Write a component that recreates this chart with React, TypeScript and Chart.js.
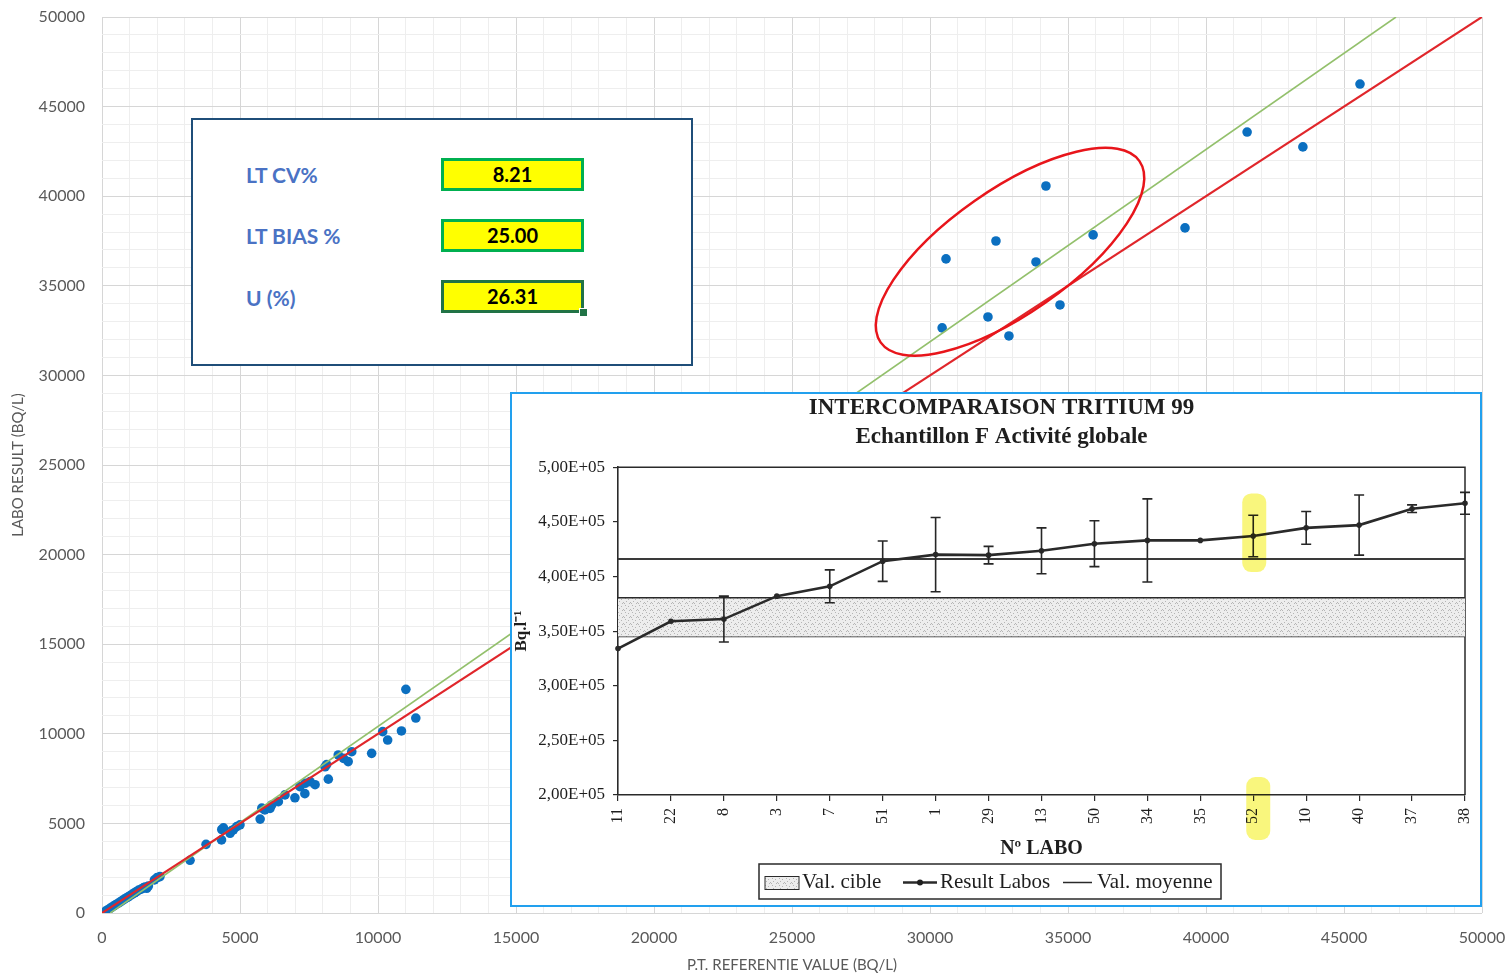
import React, { useEffect, useRef } from 'react';
import { Chart, registerables } from 'chart.js';

Chart.register(...registerables);

// ---------- Main scatter: lab result vs P.T. reference value (Bq/L) ----------
const refValues = [
  50, 120, 200, 280, 350, 430, 500, 580, 650, 730, 800, 880, 950, 1030, 1100, 1180, 1250, 1330, 1420, 1500,
  1560, 1620, 1680, 1900, 2000, 2100, 3190, 3770, 4330, 4340, 4400, 4640, 4700, 4760, 4880, 5000, 5730, 5790,
  5900, 6090, 6150, 6390, 6630, 6990, 7170, 7350, 7360, 7540, 7720, 8080, 8140, 8200, 8560, 8750, 8920, 9050,
  9770, 10170, 10350, 10850, 11010, 11370,
  30440, 30580, 32100, 32390, 32860, 33840, 34200, 34710, 35910, 39240, 41490, 43510, 45580,
];
const labValues = [
  20, 90, 170, 250, 320, 400, 470, 540, 610, 690, 760, 840, 900, 980, 1050, 1130, 1200, 1280, 1330, 1400,
  1450, 1380, 1500, 1850, 1980, 2030, 2940, 3830, 4080, 4660, 4750, 4450, 4600, 4640, 4820, 4920, 5240, 5850,
  5750, 5840, 6030, 6210, 6590, 6430, 7050, 6660, 7240, 7330, 7160, 8160, 8280, 7470, 8820, 8630, 8450, 9000,
  8910, 10120, 9650, 10160, 12480, 10880,
  32650, 36500, 33260, 37500, 32200, 36330, 40570, 33930, 37840, 38230, 43580, 42750, 46260,
];
// y = x reference line
const identityX = [0, 50000];
const identityY = [0, 50000];
// linear trend of the lab results
const trendX = [300, 46884];
const trendY = [0, 50000];
// centre of the circled group of results
const circledCentre = [32900, 36900];

const statLabels = ['LT CV%', 'LT BIAS %', 'U (%)'];
const statValues = ['8.21', '25.00', '26.31'];

// ---------- Inset: Intercomparaison tritium 99 ----------
const laboIds = ['11', '22', '8', '3', '7', '51', '1', '29', '13', '50', '34', '35', '52', '10', '40', '37', '38'];
const labResults = [334000, 359000, 361000, 382000, 391000, 414000, 420000, 419500, 423500, 430000, 433000, 433000, 437000, 444500, 447000, 462000, 467000];
const labUncertainty = [0, 0, 21000, 0, 15000, 18500, 34000, 8000, 21000, 21000, 38000, 0, 19000, 15000, 27500, 3500, 10000];
const valMoyenne = 416000;
const valCibleHigh = 380500;
const valCibleLow = 345000;
const insetTickValues = [200000, 250000, 300000, 350000, 400000, 450000, 500000];
const highlightLabo = '52';
const highlightRange = [476000, 404000];

const gridValues: number[] = [];
for (let v = 0; v <= 50000; v += 1000) gridValues.push(v);

const serif = 'Liberation Serif';
const ink = '#1e1e1e';

// keep the plot area where the layout padding puts it (ignore tick-label overflow)
function noOverflow(s: any) {
  s.paddingTop = 0;
  s.paddingBottom = 0;
  s.paddingLeft = 0;
  s.paddingRight = 0;
}

function makeStipple(): CanvasPattern | string {
  const c = document.createElement('canvas');
  c.width = 7;
  c.height = 7;
  const g = c.getContext('2d');
  if (!g) return '#e6e6e6';
  g.fillStyle = '#ededed';
  g.fillRect(0, 0, 7, 7);
  g.fillStyle = '#b5b5b5';
  [[1, 1], [4, 2], [6, 5], [2, 4], [5, 6], [0, 6]].forEach(([x, y]) => g.fillRect(x, y, 1, 1));
  return g.createPattern(c, 'repeat') || '#e6e6e6';
}

const ellipsePlugin = {
  id: 'circledGroup',
  afterDatasetsDraw(chart: any) {
    const { ctx, scales } = chart;
    const cx = scales.x.getPixelForValue(circledCentre[0]);
    const cy = scales.y.getPixelForValue(circledCentre[1]);
    ctx.save();
    ctx.beginPath();
    ctx.ellipse(cx, cy, 158, 62, (-35 * Math.PI) / 180, 0, Math.PI * 2);
    ctx.strokeStyle = '#e8151b';
    ctx.lineWidth = 2.5;
    ctx.stroke();
    ctx.restore();
  },
};

const mainTick = { family: 'Lato', size: 16 };

function mainConfig(): any {
  return {
    type: 'scatter',
    data: {
      datasets: [
        {
          label: 'y = x',
          data: identityX.map((x, i) => ({ x, y: identityY[i] })),
          showLine: true,
          borderColor: '#e0262b',
          borderWidth: 2.2,
          pointRadius: 0,
        },
        {
          label: 'Trend',
          data: trendX.map((x, i) => ({ x, y: trendY[i] })),
          showLine: true,
          borderColor: '#93c06c',
          borderWidth: 1.6,
          pointRadius: 0,
        },
        {
          label: 'Lab result',
          data: refValues.map((x, i) => ({ x, y: labValues[i] })),
          backgroundColor: '#0b6fc0',
          borderWidth: 0,
          pointRadius: 4.8,
        },
      ],
    },
    options: {
      responsive: false,
      animation: false,
      devicePixelRatio: 1,
      layout: { padding: { top: 17, right: 28, bottom: 0, left: 0 } },
      plugins: { legend: { display: false }, tooltip: { enabled: false } },
      scales: {
        x: {
          type: 'linear',
          min: 0,
          max: 50000,
          afterBuildTicks: (s: any) => {
            s.ticks = gridValues.map((value) => ({ value }));
          },
          afterFit: (s: any) => {
            s.height = 61;
            noOverflow(s);
          },
          grid: {
            drawTicks: false,
            color: (c: any) => (c.tick && c.tick.value % 5000 === 0 ? '#d6d6d6' : '#eeeeee'),
          },
          border: { display: false },
          ticks: {
            autoSkip: false,
            maxRotation: 0,
            padding: 15,
            color: '#595959',
            font: mainTick,
            callback: (v: number) => (v % 5000 === 0 ? String(v) : ''),
          },
          title: {
            display: true,
            text: 'P.T. REFERENTIE VALUE (BQ/L)',
            color: '#595959',
            font: { family: 'Lato', size: 15 },
            padding: { top: 0, bottom: 0 },
          },
        },
        y: {
          type: 'linear',
          min: 0,
          max: 50000,
          afterBuildTicks: (s: any) => {
            s.ticks = gridValues.map((value) => ({ value }));
          },
          afterFit: (s: any) => {
            s.width = 102;
            noOverflow(s);
          },
          grid: {
            drawTicks: false,
            color: (c: any) => (c.tick && c.tick.value % 5000 === 0 ? '#d6d6d6' : '#eeeeee'),
          },
          border: { display: false },
          ticks: {
            autoSkip: false,
            padding: 17,
            color: '#595959',
            font: mainTick,
            callback: (v: number) => (v % 5000 === 0 ? String(v) : ''),
          },
          title: {
            display: true,
            text: 'LABO RESULT (BQ/L)',
            color: '#595959',
            font: { family: 'Lato', size: 15 },
            padding: { top: 9, bottom: 0 },
          },
        },
      },
    },
    plugins: [ellipsePlugin],
  };
}

function insetConfig(stipple: CanvasPattern | string): any {
  const first = laboIds[0];
  const last = laboIds[laboIds.length - 1];

  const framePlugin = {
    id: 'plotFrame',
    beforeDatasetsDraw(chart: any) {
      const { ctx, chartArea: a } = chart;
      ctx.save();
      ctx.strokeStyle = '#2a2a2a';
      ctx.lineWidth = 1.5;
      ctx.beginPath();
      ctx.moveTo(a.left, a.top);
      ctx.lineTo(a.right, a.top);
      ctx.lineTo(a.right, a.bottom);
      ctx.stroke();
      ctx.restore();
    },
  };

  const errorBarPlugin = {
    id: 'errorBars',
    afterDatasetsDraw(chart: any) {
      const { ctx } = chart;
      const y = chart.scales.y;
      const meta = chart.getDatasetMeta(0);
      ctx.save();
      ctx.strokeStyle = '#262626';
      ctx.lineWidth = 1.6;
      meta.data.forEach((pt: any, i: number) => {
        const e = labUncertainty[i];
        if (!e) return;
        const t = y.getPixelForValue(labResults[i] + e);
        const b = y.getPixelForValue(labResults[i] - e);
        ctx.beginPath();
        ctx.moveTo(pt.x, t);
        ctx.lineTo(pt.x, b);
        ctx.moveTo(pt.x - 5, t);
        ctx.lineTo(pt.x + 5, t);
        ctx.moveTo(pt.x - 5, b);
        ctx.lineTo(pt.x + 5, b);
        ctx.stroke();
      });
      ctx.restore();
    },
  };

  const legendPlugin = {
    id: 'boxedLegend',
    afterDraw(chart: any) {
      const { ctx } = chart;
      const ds = chart.data.datasets;
      const bx = 247;
      const by = 470;
      const bw = 462;
      const bh = 35;
      const cy = by + bh / 2 + 1;
      ctx.save();
      ctx.fillStyle = '#ffffff';
      ctx.fillRect(bx, by, bw, bh);
      ctx.strokeStyle = '#2a2a2a';
      ctx.lineWidth = 1.5;
      ctx.strokeRect(bx, by, bw, bh);
      ctx.font = `21px "${serif}"`;
      ctx.textBaseline = 'middle';
      ctx.textAlign = 'left';
      // Val. cible
      ctx.fillStyle = stipple;
      ctx.fillRect(253, cy - 6, 34, 13);
      ctx.lineWidth = 1;
      ctx.strokeRect(253, cy - 6, 34, 13);
      ctx.fillStyle = ink;
      ctx.fillText(ds[2].label, 290, cy);
      // Result Labos
      ctx.lineWidth = 2.5;
      ctx.beginPath();
      ctx.moveTo(391, cy);
      ctx.lineTo(425, cy);
      ctx.stroke();
      ctx.beginPath();
      ctx.arc(408, cy, 3, 0, Math.PI * 2);
      ctx.fill();
      ctx.fillText(ds[0].label, 428, cy);
      // Val. moyenne
      ctx.lineWidth = 1.5;
      ctx.beginPath();
      ctx.moveTo(551, cy);
      ctx.lineTo(580, cy);
      ctx.stroke();
      ctx.fillText(ds[1].label, 585, cy);
      ctx.restore();
    },
  };

  const highlightPlugin = {
    id: 'marker',
    afterDraw(chart: any) {
      const { ctx, chartArea, scales } = chart;
      const px = scales.x.getPixelForValue(laboIds.indexOf(highlightLabo));
      const t = scales.y.getPixelForValue(highlightRange[0]);
      const b = scales.y.getPixelForValue(highlightRange[1]);
      ctx.save();
      ctx.globalCompositeOperation = 'multiply';
      ctx.fillStyle = 'rgba(248, 244, 92, 0.8)';
      ctx.beginPath();
      ctx.roundRect(px - 11, t, 24, b - t, 9);
      ctx.fill();
      ctx.beginPath();
      ctx.roundRect(px - 7, chartArea.bottom - 18, 24, 63, 9);
      ctx.fill();
      ctx.restore();
    },
  };

  return {
    type: 'line',
    data: {
      labels: laboIds,
      datasets: [
        {
          label: 'Result Labos',
          data: labResults,
          borderColor: '#2a2a2a',
          backgroundColor: '#2a2a2a',
          borderWidth: 2.6,
          pointRadius: 2.8,
          pointBorderWidth: 0,
          tension: 0,
          fill: false,
        },
        {
          label: 'Val. moyenne',
          data: [
            { x: first, y: valMoyenne },
            { x: last, y: valMoyenne },
          ],
          borderColor: '#3a3a3a',
          borderWidth: 1.8,
          pointRadius: 0,
          fill: false,
        },
        {
          label: 'Val. cible',
          data: [
            { x: first, y: valCibleHigh },
            { x: last, y: valCibleHigh },
          ],
          borderColor: '#2a2a2a',
          borderWidth: 1.6,
          backgroundColor: stipple,
          pointRadius: 0,
          fill: '+1',
        },
        {
          label: 'Val. cible (bas)',
          data: [
            { x: first, y: valCibleLow },
            { x: last, y: valCibleLow },
          ],
          borderColor: '#2a2a2a',
          borderWidth: 1.6,
          pointRadius: 0,
          fill: false,
        },
      ],
    },
    options: {
      responsive: false,
      animation: false,
      devicePixelRatio: 1,
      layout: { padding: { top: 0, right: 15, bottom: 44, left: 26 } },
      plugins: {
        legend: { display: false },
        tooltip: { enabled: false },
        title: {
          display: true,
          text: 'INTERCOMPARAISON TRITIUM 99',
          color: ink,
          font: { family: serif, size: 23, weight: 'bold', lineHeight: 1.2 },
          padding: { top: 0, bottom: 2 },
        },
        subtitle: {
          display: true,
          text: 'Echantillon F Activité globale',
          color: ink,
          font: { family: serif, size: 23, weight: 'bold', lineHeight: 1.2 },
          padding: { top: 0, bottom: 16 },
        },
      },
      scales: {
        x: {
          type: 'category',
          offset: false,
          afterFit: (s: any) => {
            s.height = 66;
            noOverflow(s);
          },
          grid: { display: true, drawOnChartArea: false, drawTicks: true, tickLength: 6, color: '#2a2a2a', lineWidth: 1.2 },
          border: { display: true, color: '#2a2a2a', width: 1.6 },
          ticks: {
            autoSkip: false,
            minRotation: 90,
            maxRotation: 90,
            padding: 7,
            color: ink,
            font: { family: serif, size: 16 },
          },
          title: {
            display: true,
            text: 'Nº LABO',
            color: ink,
            font: { family: serif, size: 20, weight: 'bold' },
            padding: 0,
          },
        },
        y: {
          min: 200000,
          max: 500000,
          afterBuildTicks: (s: any) => {
            s.ticks = insetTickValues.map((value) => ({ value }));
          },
          afterFit: (s: any) => {
            s.width = 80;
            noOverflow(s);
          },
          grid: { display: true, drawOnChartArea: false, drawTicks: true, tickLength: 5, color: '#2a2a2a', lineWidth: 1.2 },
          border: { display: true, color: '#2a2a2a', width: 1.6 },
          ticks: {
            padding: 8,
            color: ink,
            font: { family: serif, size: 17 },
            callback: (v: number) => (v / 100000).toFixed(2).replace('.', ',') + 'E+05',
          },
          title: {
            display: true,
            text: 'Bq.l⁻¹',
            color: ink,
            font: { family: serif, size: 17, weight: 'bold' },
            padding: { top: -27, bottom: 0 },
          },
        },
      },
    },
    plugins: [framePlugin, errorBarPlugin, highlightPlugin, legendPlugin],
  };
}

const cellTops = [38, 99, 160];
const labelCentres = [54, 115, 177];

export default function App() {
  const mainRef = useRef<HTMLCanvasElement>(null);
  const insetRef = useRef<HTMLCanvasElement>(null);

  useEffect(() => {
    const main = new Chart(mainRef.current as HTMLCanvasElement, mainConfig());
    const inset = new Chart(insetRef.current as HTMLCanvasElement, insetConfig(makeStipple()));
    return () => {
      main.destroy();
      inset.destroy();
    };
  }, []);

  return (
    <div style={{ position: 'fixed', left: 0, top: 0, width: 1510, height: 974, background: '#ffffff', overflow: 'hidden' }}>
      <canvas ref={mainRef} width={1510} height={974} style={{ position: 'absolute', left: 0, top: 0 }} />

      <div
        style={{
          position: 'absolute',
          left: 191,
          top: 118,
          width: 502,
          height: 248,
          boxSizing: 'border-box',
          border: '2px solid #1f4e79',
          background: '#ffffff',
          fontFamily: 'Lato, sans-serif',
        }}
      >
        {statLabels.map((label, i) => (
          <div
            key={label}
            style={{
              position: 'absolute',
              left: 53,
              top: labelCentres[i],
              transform: 'translateY(-50%)',
              color: '#4a72c4',
              fontWeight: 700,
              fontSize: 21,
              whiteSpace: 'nowrap',
            }}
          >
            {label}
          </div>
        ))}
        {statValues.map((value, i) => (
          <div
            key={value}
            style={{
              position: 'absolute',
              left: 248,
              top: cellTops[i],
              width: 143,
              height: 33,
              boxSizing: 'border-box',
              border: `3px solid ${i === 2 ? '#217346' : '#00b050'}`,
              background: '#ffff00',
              color: '#000000',
              fontWeight: 700,
              fontSize: 20,
              lineHeight: '27px',
              textAlign: 'center',
            }}
          >
            {value}
          </div>
        ))}
        <div
          style={{
            position: 'absolute',
            left: 386,
            top: 188,
            width: 7,
            height: 7,
            background: '#217346',
            border: '1px solid #ffffff',
          }}
        />
      </div>

      <div
        style={{
          position: 'absolute',
          left: 510,
          top: 392,
          width: 972,
          height: 515,
          boxSizing: 'border-box',
          border: '2px solid #22a0ee',
          background: '#ffffff',
        }}
      >
        <canvas ref={insetRef} width={968} height={511} style={{ display: 'block' }} />
      </div>
    </div>
  );
}
